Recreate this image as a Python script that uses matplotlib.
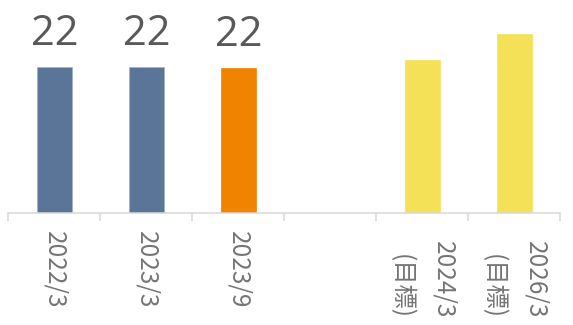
import numpy as np
import matplotlib
matplotlib.use("Agg")
import matplotlib.pyplot as plt
from matplotlib.transforms import blended_transform_factory

# ---- data ----
categories = ["2022/3", "2023/3", "2023/9", "", "2024/3\n(目標)", "2026/3\n(目標)"]
values = [22.0, 22.0, 21.85, np.nan, 23.0, 27.0]
value_labels = ["22", "22", "22", "", "", ""]

# ---- style ----
bar_colors = ["#5B7599", "#5B7599", "#F08300", "#FFFFFF", "#F5E157", "#F5E157"]
edge_colors = ["#9DB0CA", "#9DB0CA", "#F08300", "#FFFFFF", "#F5E157", "#F5E157"]
value_font = ["Open Sans", "DejaVu Sans"]
cat_font = ["Noto Sans CJK JP", "DejaVu Sans"]

W, H = 573, 325
fig = plt.figure(figsize=(W / 100, H / 100), dpi=100)
x0, x1, ybot = 8.3, 560.3, 213.3
ax = fig.add_axes([x0 / W, 1 - ybot / H, (x1 - x0) / W, ybot / H])

x = np.arange(len(categories))
ax.bar(x, values, width=0.385, color=bar_colors, edgecolor=edge_colors, linewidth=0.5, zorder=2)

ax.set_xlim(-0.5, len(categories) - 0.5)
ax.set_ylim(0, 32.08)

for s in ["top", "left", "right"]:
    ax.spines[s].set_visible(False)
ax.spines["bottom"].set_color("#D9D9D9")
ax.spines["bottom"].set_linewidth(1.1)
ax.set_yticks([])

# boundary ticks
ax.set_xticks(np.arange(len(categories) + 1) - 0.5)
ax.set_xticklabels([])
ax.tick_params(axis="x", length=5.8, width=1.1, color="#D9D9D9", direction="out")

# value labels
for xi, v, lab in zip(x, values, value_labels):
    if lab:
        ax.annotate(lab, xy=(xi, v), xytext=(0, 22), textcoords="offset pixels",
                    ha="center", va="baseline", fontsize=30, color="#595959",
                    family=value_font)

# category labels
trans = blended_transform_factory(ax.transData, ax.transAxes)
for xi, cat in zip(x, categories):
    if not cat:
        continue
    off = -28 if "\n" in cat else -18
    ax.annotate(cat, xy=(xi, 0), xycoords=trans, xytext=(0, off),
                textcoords="offset pixels", rotation=270, ha="center", va="top",
                multialignment="right", linespacing=1.85, fontsize=17.5,
                color="#757575", family=cat_font)

fig.savefig("out.png", dpi=100)
